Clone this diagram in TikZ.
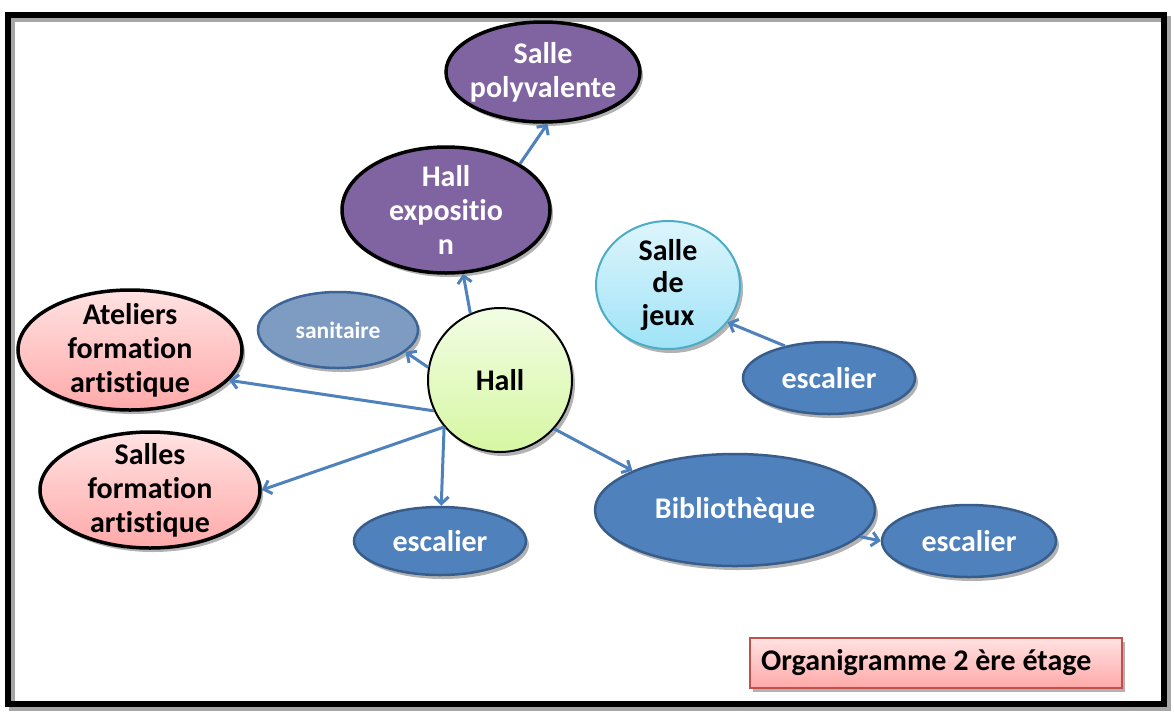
\documentclass[tikz,border=0pt]{standalone}
\usepackage{fontspec}
\setmainfont{Carlito}[Ligatures=NoCommon]
\usetikzlibrary{shapes.geometric, arrows.meta, shadows}
\definecolor{purp}{HTML}{8064A2}
\definecolor{bluef}{HTML}{4F81BD}
\definecolor{blued}{HTML}{385D8A}
\definecolor{sanf}{HTML}{7E9CC2}
\definecolor{sand}{HTML}{3C6496}
\definecolor{pinkt}{HTML}{FFE2E2}
\definecolor{pinkb}{HTML}{FFA9A9}
\definecolor{greent}{HTML}{F2FDE4}
\definecolor{greenb}{HTML}{D6F7A2}
\definecolor{cyant}{HTML}{DDF5FC}
\definecolor{cyanb}{HTML}{9FE3F7}
\definecolor{cyand}{HTML}{4BACC6}
\definecolor{redd}{HTML}{C0504D}
\definecolor{conncol}{HTML}{4F81BD}
\begin{document}
\begin{tikzpicture}[x=1pt,y=-1pt,
  shad/.style={drop shadow={shadow xshift=3pt, shadow yshift=-4pt, opacity=0.3, fill=black}},
  oval/.style={ellipse, inner sep=0pt, shad},
  txt/.style={font=\bfseries\fontsize{30}{34}\selectfont, align=center, inner sep=0pt},
  wtxt/.style={txt, text=white},
  purpnode/.style={oval, fill=purp, draw=black, line width=3.5pt},
  pinknode/.style={oval, top color=pinkt, bottom color=pinkb, draw=black, line width=3.5pt},
  bluenode/.style={oval, fill=bluef, draw=blued, line width=2.5pt},
  conn/.style={draw=conncol, line width=3pt, -{Straight Barb[length=7pt,width=14pt]}}
]
\useasboundingbox (0,0) rectangle (1174,713);
\fill[white] (0,0) rectangle (1174,713);
% frame
\draw[black!35, line width=6pt] (12,19) rectangle (1168,708);
\draw[black, line width=6pt] (8,15) rectangle (1164,704);

\node[purpnode, minimum width=194, minimum height=100,
  label={[wtxt]center:Salle\\polyvalente}] (sallepoly) at (543,72) {};
\node[purpnode, minimum width=208, minimum height=126,
  label={[wtxt]center:Hall\\expositio\\n}] (hallexpo) at (446,210) {};
\node[oval, top color=cyant, bottom color=cyanb, draw=cyand, line width=2pt,
  minimum width=144, minimum height=128,
  label={[txt, font=\bfseries\fontsize{30}{32.5}\selectfont]center:Salle\\de\\jeux}] (jeux) at (668,285) {};
\node[oval, fill=sanf, draw=sand, line width=2.5pt, minimum width=160, minimum height=76,
  label={[wtxt, font=\bfseries\fontsize{23.5}{26}\selectfont]center:sanitaire}] (sanitaire) at (338,330) {};
\node[circle, inner sep=0pt, shad, top color=greent, bottom color=greenb, draw=black, line width=2pt,
  minimum size=144, label={[txt]center:Hall}] (hall) at (500,380) {};
\node[pinknode, minimum width=224, minimum height=120,
  label={[txt]center:Ateliers\\formation\\artistique}] (ateliers) at (130,350) {};
\node[pinknode, minimum width=220, minimum height=116,
  label={[txt]center:Salles\\formation\\artistique}] (salles) at (150,490) {};
\node[bluenode, minimum width=172, minimum height=68,
  label={[wtxt]center:escalier}] (esc1) at (440,541) {};
\node[bluenode, minimum width=280, minimum height=112,
  label={[wtxt]center:Bibliothèque}] (biblio) at (735,510) {};
\node[bluenode, minimum width=174, minimum height=72,
  label={[wtxt]center:escalier}] (esc3) at (969,541) {};
\node[bluenode, minimum width=172, minimum height=72,
  label={[wtxt]center:escalier}] (esc2) at (829,378) {};
\node[rectangle, shad, top color=pinkt, bottom color=pinkb, draw=redd, line width=1.5pt,
  minimum height=50, txt, align=flush left, text width=350, inner xsep=11] (orga) at (936,663) {Organigramme 2 ère étage};

\draw[conn] (hall.114) -- (hallexpo.-75);
\draw[conn] (hallexpo.32) -- (sallepoly.-85);
\draw[conn] (hall.170) -- (sanitaire.-18);
\draw[conn] (hall.205) -- (ateliers.-17);
\draw[conn] (hall.220) -- (salles.0);
\draw[conn] (hall.220) -- (esc1.88);
\draw[conn] (hall.318) -- (biblio.159);
\draw[conn] (esc2.144) -- (jeux.-32);
\draw[conn] (biblio.-12) -- (esc3.180);
\end{tikzpicture}
\end{document}
